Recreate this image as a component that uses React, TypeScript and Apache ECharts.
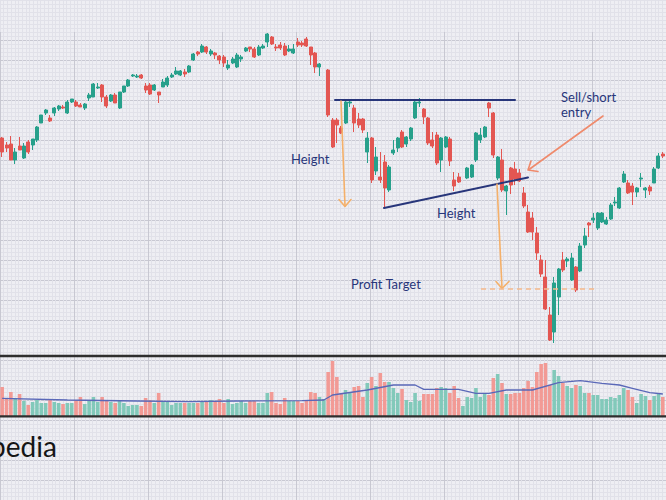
import React, { useEffect, useRef } from "react";
import * as echarts from "echarts";

// ---- data ----
// candle: [open, close, low, high]; "-" marks an empty session
const candles: any[] = [
  [111, 104, 101.5, 111.5], [107.5, 106, 104, 109], [108, 100, 100, 112], [100, 104, 98, 106], [107, 105, 105, 111.5],
  [101, 107, 100.5, 108.5], [109, 104, 103, 110], [107.5, 110.5, 105, 110.5], [110, 116.5, 109, 117], [118.5, 122.5, 118.5, 122.5],
  [123.5, 125, 122.5, 125.5], [121, 119.5, 119, 122.5], [123.5, 126, 122, 126.5], [125.5, 127, 124.5, 127.5], [126.5, 126, 125.5, 127.5],
  [123.5, 129, 123, 130], [129, 130.5, 128.5, 130.5], [129, 127, 126.5, 130], [127.5, 126.5, 126.5, 128.5], [126, 128, 125, 128.5],
  [131, 132.5, 129.5, 133.5], [131.5, 138, 131.5, 138.5], [136, 136.5, 135.5, 138.5], [137.5, 131.5, 129, 138], [131.5, 127, 126, 132.5],
  [129.5, 132.5, 129, 133], [132.5, 128.5, 128.5, 133.5], [126, 134, 125.5, 134], [134, 137, 133.5, 137], [137, 140, 136.5, 140.5],
  [142, 142.5, 141.5, 143], [141.5, 142, 141, 143], [142.5, 141, 140.5, 143], [137, 135, 133.5, 138.5], [137.5, 133, 132.5, 138.5],
  [135, 137.5, 134.5, 138], [134, 132.5, 128.5, 134], [136.5, 139, 136.5, 140.5], [137.5, 141, 136.5, 142], [141.5, 142.5, 141, 143.5],
  [143, 144.5, 142.5, 146.5], [142.5, 144.5, 142, 145], [144, 143, 141.5, 145.5], [144, 147, 143.5, 147.5], [150, 153, 149.5, 153.5],
  [154, 153, 152, 154.5], [154, 157, 153.5, 158], [156.5, 154, 153, 157], [153, 154.5, 152, 155.5], [153.5, 152.5, 150.5, 154],
  [152, 150, 148, 152.5], [151.5, 148.5, 146.5, 152.5], [146, 147.5, 145, 150], [148.5, 150.5, 148, 151.5], [146.5, 152.5, 146, 153.5],
  [150.5, 151.5, 149, 152.5], [154.5, 156, 154, 156.5], [156.5, 155.5, 154, 156.5], [155.5, 151.5, 151, 156.5], [152.5, 156.5, 152, 157.5],
  [156, 157, 155.5, 158], [159, 163, 156.5, 163.5], [161.5, 158, 157.5, 162], [156.5, 156, 154.5, 158], [157.5, 156, 155, 159],
  [157, 152.5, 152, 158.5], [154.5, 155.5, 154, 157.5], [153.5, 155.5, 153, 158], [159, 157.5, 156.5, 161], [158.5, 157.5, 156.5, 159.5],
  [160.5, 157, 156.5, 161.5], [156.5, 152.5, 147.5, 156.5], [153.5, 146.5, 143.5, 154], [146.5, 148, 142, 148.5], ["-", "-", "-", "-"],
  [145, 122.5, 121.5, 145.5], [120, 106.5, 106, 121], [120, 117.5, 108.5, 121], [116, 113.5, 113, 117], [118.5, 129, 118, 130],
  [128.5, 129, 126.5, 130.5], [126, 118.5, 114, 127.5], [120.5, 117.5, 116, 123.5], [120.5, 115, 113.5, 121], [104, 111, 98.5, 114],
  [111, 90, 88.5, 111.5], [94.5, 101.5, 92.5, 106.5], [91.5, 90, 88.5, 104], [99, 86, 76, 102.5], [85, 96.5, 84, 97.5],
  [103.5, 105, 102.5, 110], [106, 111, 104, 111.5], [114, 106.5, 106, 115], [108, 111.5, 106.5, 112], [110.5, 116, 109.5, 116.5],
  [121, 129, 120.5, 130], [128.5, 129, 126.5, 131], [125.5, 121.5, 118, 126], [121, 108.5, 107.5, 121.5], [110, 107, 106, 114],
  [112.5, 98.5, 97.5, 114], [100, 111, 94, 111.5], [106.5, 111.5, 106, 112], [110.5, 99.5, 97, 111.5], [90, 87, 84.5, 94],
  [91.5, 89, 88.5, 93.5], ["-", "-", "-", "-"], [91, 96, 90.5, 96.5], [91.5, 97.5, 91, 98], [100, 113.5, 99, 114],
  [110, 112.5, 108.5, 116], [111.5, 116.5, 111, 117], [128.5, 126, 121.5, 129], [123.5, 102.5, 101, 124], [91, 101.5, 90, 102],
  [100, 85, 84, 105.5], [84.5, 87, 72.5, 87.5], [96, 87.5, 83, 96.5], [95.5, 90.5, 87.5, 99], [93.5, 89.5, 89, 95.5],
  [83.5, 77, 76, 86.5], [74, 64, 63.5, 77.5], [71, 64, 60, 74], [63.5, 53.5, 50, 66.5], [50, 43, 41.5, 52.5],
  [41.5, 25.5, 25, 50], [22.5, 10, 9.5, 26.5], [14, 38.5, 8.5, 41.5], [31.5, 45.5, 22.5, 46], [50, 45, 44, 54],
  [49.5, 50.5, 46.5, 51.5], [40, 51, 39.5, 53.5], [46.5, 35, 34, 47], [44.5, 57, 44, 58.5], [57.5, 62, 56, 66],
  [68.5, 67.5, 61.5, 69], [70, 71, 68.5, 73.5], [66, 73.5, 65, 74], [69, 73.5, 68.5, 74], [68, 70, 67.5, 71.5],
  [70.5, 77.5, 70, 78.5], [78.5, 79, 77, 81.5], [76, 86, 75.5, 86.5], [89, 93, 88.5, 94.5], [88.5, 83.5, 83, 90],
  [87, 84, 77.5, 88.5], [84, 86, 81.5, 86.5], [90.5, 91, 86.5, 93.5], [85, 86, 81, 86.5], [86.5, 84.5, 82.5, 87.5],
  [88.5, 95.5, 88.5, 96.5], [96, 102, 95.5, 103.5], [103, 102, 101, 104],
];

const volumes: number[] = [
  29, 18, 24, 18, 22, 15, 11, 14, 16, 13,
  13, 17, 14, 13, 12, 13, 13, 16, 19, 12,
  15, 19, 14, 19, 16, 14, 13, 15, 13, 10,
  11, 11, 10, 18, 16, 13, 23, 14, 15, 11,
  13, 13, 13, 13, 13, 13, 14, 14, 16, 14,
  17, 13, 17, 12, 13, 15, 13, 15, 15, 13,
  13, 23, 24, 13, 12, 18, 15, 15, 15, 13,
  15, 24, 23, 19, 17, 44, 55, 39, 23, 26,
  24, 29, 30, 19, 33, 39, 30, 43, 34, 34,
  28, 23, 27, 16, 14, 23, 15, 22, 22, 22,
  28, 29, 28, 23, 30, 18, 10, 19, 18, 28,
  19, 22, 21, 38, 42, 33, 22, 22, 23, 23,
  28, 35, 29, 44, 52, 53, 31, 46, 40, 33,
  30, 28, 31, 30, 23, 23, 21, 21, 17, 17,
  19, 18, 21, 28, 26, 19, 13, 22, 20, 16,
  20, 23, 19,
];

// volume moving-average line, points read as [session index, value]
const volumeAverage: number[][] = [
  [0, 17.7], [15, 16], [31, 15], [43, 14.3], [54, 15], [69, 15.3], [74, 16], [76, 21],
  [84, 26], [90, 31], [95, 31], [97, 26.7], [105, 26.7], [109, 22.7], [112, 22.7], [116, 26],
  [122, 26], [128, 33.3], [133, 35.3], [138, 32.7], [142, 31], [145, 27.7], [149, 23.3], [152, 22],
];

const sessions: string[] = candles.map((_, i) => "D" + (i + 1));

const annotationTexts = {
  height: "Height",
  profit: "Profit Target",
  sell1: "Sell/short",
  sell2: "entry",
  logo: "pedia",
};

// ---- styles ----
const UP = "#27a08b";
const DOWN = "#e35652";
const VOL_UP = "#82c9ba";
const VOL_DOWN = "#f29a95";
const NAVY = "#27357a";
const BG = "#eeeef3";
const MINOR = "#e1e1e9";
const MAJOR = "#c8c8d2";

const hiddenAxisParts = {
  axisLine: { show: false },
  axisTick: { show: false },
  axisLabel: { show: false },
};

export default function App() {
  const ref = useRef<HTMLDivElement>(null);

  useEffect(() => {
    const chart = echarts.init(ref.current as HTMLDivElement, null, { renderer: "svg" });

    const volumeData = volumes.map((v, i) => {
      const c = candles[i];
      const up = typeof c[0] !== "number" || c[1] >= c[0];
      return { value: v, itemStyle: { color: up ? VOL_UP : VOL_DOWN } };
    });

    const ln = (x1: number, y1: number, x2: number, y2: number, stroke: string, w: number, extra: any = {}) => ({
      type: "line",
      silent: true,
      z: 100,
      shape: { x1, y1, x2, y2 },
      style: { stroke, lineWidth: w, lineCap: "round", ...extra },
    });
    const pl = (pts: number[][], stroke: string, w: number) => ({
      type: "polyline",
      silent: true,
      z: 100,
      shape: { points: pts },
      style: { stroke, lineWidth: w, fill: null, lineCap: "round", lineJoin: "round" },
    });
    const tx = (x: number, y: number, text: string, size: number, fill: string) => ({
      type: "text",
      silent: true,
      z: 100,
      x,
      y,
      style: {
        text,
        fill,
        font: `${size}px Lato, "Open Sans", sans-serif`,
        textAlign: "left",
        textVerticalAlign: "middle",
        align: "left",
        verticalAlign: "middle",
      },
    });

    const option: any = {
      animation: false,
      backgroundColor: BG,
      grid: [
        { left: -69.7, top: -1.6, width: 825.3, height: 520 },
        { left: -69.7, top: 32, width: 825.3, height: 480 },
        { left: -10, top: 40, width: 700, height: 478.4 },
        { left: -2, top: 0, width: 667, height: 352 },
        { left: -2, top: 357, width: 667, height: 59 },
      ],
      xAxis: [
        {
          gridIndex: 0, type: "value", min: 0, max: 9, interval: 1, ...hiddenAxisParts,
          splitLine: { show: true, lineStyle: { color: MINOR, width: 1 } },
          minorTick: { show: false, splitNumber: 20 },
          minorSplitLine: { show: true, lineStyle: { color: MINOR, width: 1 } },
        },
        {
          gridIndex: 1, type: "value", min: 0, max: 9, interval: 1, ...hiddenAxisParts,
          splitLine: { show: true, lineStyle: { color: MAJOR, width: 1 } },
        },
        { gridIndex: 2, type: "value", min: 0, max: 1, ...hiddenAxisParts, splitLine: { show: false } },
        { gridIndex: 3, type: "category", data: sessions, boundaryGap: true, show: false },
        { gridIndex: 4, type: "category", data: sessions, boundaryGap: true, show: false },
      ],
      yAxis: [
        {
          gridIndex: 0, type: "value", min: 0, max: 25, interval: 1, ...hiddenAxisParts,
          splitLine: { show: true, lineStyle: { color: MINOR, width: 1 } },
          minorTick: { show: false, splitNumber: 5 },
          minorSplitLine: { show: true, lineStyle: { color: MINOR, width: 1 } },
        },
        { gridIndex: 1, type: "value", min: 0, max: 1, ...hiddenAxisParts, splitLine: { show: false } },
        {
          gridIndex: 2, type: "value", min: 0, max: 23, interval: 1, ...hiddenAxisParts,
          splitLine: { show: true, lineStyle: { color: MAJOR, width: 1 } },
        },
        { gridIndex: 3, type: "value", min: 4, max: 180, show: false, scale: true },
        { gridIndex: 4, type: "value", min: 0, max: 59, show: false },
      ],
      series: [
        {
          type: "candlestick",
          xAxisIndex: 3,
          yAxisIndex: 3,
          data: candles,
          barWidth: 3.5,
          itemStyle: { color: UP, color0: DOWN, borderColor: UP, borderColor0: DOWN, borderWidth: 1 },
          silent: true,
        },
        {
          type: "bar",
          xAxisIndex: 4,
          yAxisIndex: 4,
          data: volumeData,
          barWidth: 3.6,
          silent: true,
        },
        {
          type: "line",
          xAxisIndex: 4,
          yAxisIndex: 4,
          data: volumeAverage,
          symbol: "none",
          lineStyle: { color: "#5a68b8", width: 1.3 },
          silent: true,
          z: 5,
        },
      ],
      graphic: [
        // panel borders
        ln(-2, 356, 670, 356, "#2e2e2e", 2.5, { lineCap: "butt" }),
        ln(-2, 416.3, 670, 416.3, "#2e2e2e", 2.2, { lineCap: "butt" }),
        // pattern lines
        ln(335, 100, 515, 100, NAVY, 2),
        ln(384, 208, 528, 177.5, NAVY, 2),
        // height arrows
        ln(341, 101, 345, 206, "#f4b06a", 1.6),
        pl([[339, 199.5], [345, 206.5], [351, 199.5]], "#f4b06a", 1.6),
        ln(497, 184, 502, 288, "#f4b06a", 1.6),
        pl([[496, 281.5], [502, 288.5], [509, 281.5]], "#f4b06a", 1.6),
        // profit target
        ln(481, 289, 598, 289, "#f5b98c", 1.5, { lineDash: [5, 4], lineCap: "butt" }),
        // sell/short arrow
        ln(603, 116, 529, 169.5, "#ef8a6c", 1.6),
        pl([[531, 161], [528, 170], [538, 171.5]], "#ef8a6c", 1.6),
        // texts
        tx(291, 159, annotationTexts.height, 13, NAVY),
        tx(437, 213, annotationTexts.height, 13, NAVY),
        tx(351, 284, annotationTexts.profit, 13, NAVY),
        tx(561, 97, annotationTexts.sell1, 13, NAVY),
        tx(561, 112, annotationTexts.sell2, 13, NAVY),
        tx(-10, 446, annotationTexts.logo, 28, "#151515"),
      ],
    };

    chart.setOption(option);
    return () => chart.dispose();
  }, []);

  return (
    <div
      ref={ref}
      style={{ position: "absolute", left: 0, top: 0, width: 666, height: 500, background: BG }}
    />
  );
}
